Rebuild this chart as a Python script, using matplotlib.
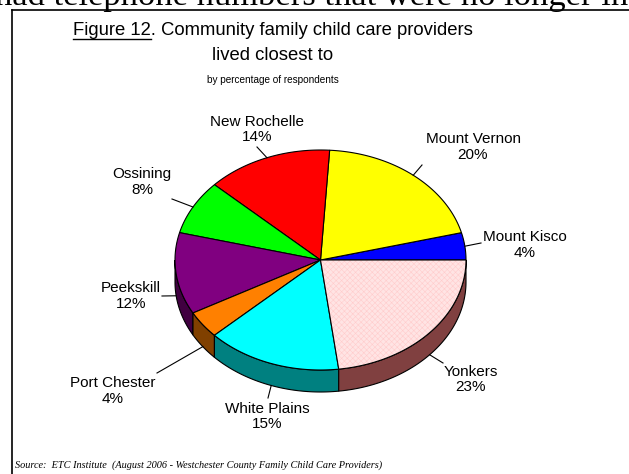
import matplotlib
matplotlib.use('Agg')
import matplotlib.pyplot as plt
from matplotlib.patches import Polygon
import numpy as np

plt.rcParams['font.family'] = ['Liberation Sans', 'DejaVu Sans']
plt.rcParams['hatch.linewidth'] = 0.4

# share of respondents by community
towns = ['Mount Kisco', 'Mount Vernon', 'New Rochelle', 'Ossining',
         'Peekskill', 'Port Chester', 'White Plains', 'Yonkers']
pct = [4, 20, 14, 8, 12, 4, 15, 23]

top_colors = ['#0000FF', '#FFFF00', '#FF0000', '#00FF00',
              '#800080', '#FF8000', '#00FFFF', '#FFE4E4']
side_colors = ['#000080', '#808000', '#800000', '#008000',
               '#400040', '#804000', '#008080', '#804040']

# label placement (text centre) and where each leader line ends
label_xy = [(525, 245), (473, 147), (257, 129.5), (142, 182),
            (131, 296), (113, 391), (267, 416.5), (471, 379.5)]
leader_end = [(481, 243), (422, 165), (257, 147), (172, 199),
              (162, 296), (157, 373), (268, 398), (443, 363)]

W, H = 629, 474
cx, cy, rx, ry, depth = 320.5, 260, 145.5, 110, 22

fig = plt.figure(figsize=(W / 100, H / 100), dpi=100)
ax = fig.add_axes([0, 0, 1, 1])
ax.set_xlim(0, W)
ax.set_ylim(H, 0)
ax.axis('off')


def rim(a0, a1, n=80):
    t = np.radians(np.linspace(a0, a1, n))
    return np.column_stack([cx + rx * np.cos(t), cy - ry * np.sin(t)])


edges = np.concatenate([[0], np.cumsum(pct)]) * 360.0 / sum(pct)

# side walls of the front half
for i in range(len(pct)):
    a0, a1 = max(edges[i], 180), min(edges[i + 1], 360)
    if a1 <= a0:
        continue
    upper = rim(a0, a1)
    lower = upper[::-1] + [0, depth]
    ax.add_patch(Polygon(np.vstack([upper, lower]), closed=True,
                         facecolor=side_colors[i], edgecolor='black', lw=0.8))

# top face
for i in range(len(pct)):
    pts = np.vstack([[cx, cy], rim(edges[i], edges[i + 1])])
    if towns[i] == 'Yonkers':
        ax.add_patch(Polygon(pts, closed=True, facecolor=top_colors[i],
                             edgecolor='#FFCCCC', hatch='xxxxxx', lw=0))
        ax.add_patch(Polygon(pts, closed=True, fill=False,
                             edgecolor='black', lw=0.8))
    else:
        ax.add_patch(Polygon(pts, closed=True, facecolor=top_colors[i],
                             edgecolor='black', lw=0.8))

# labels and leader lines
for i, name in enumerate(towns):
    mid = np.radians((edges[i] + edges[i + 1]) / 2)
    ax_x = cx + rx * np.cos(mid)
    ax_y = cy - ry * np.sin(mid) + (depth if np.sin(mid) < 0 else 0)
    ex, ey = leader_end[i]
    ax.plot([ax_x, ex], [ax_y, ey], color='black', lw=0.8)
    lx, ly = label_xy[i]
    ax.text(lx, ly, f'{name}\n{pct[i]}%', ha='center', va='center',
            fontsize=11, linespacing=1.1)

# titles
tx = 273
t1 = ax.text(tx, 35, 'Figure 12. Community family child care providers',
             ha='center', va='baseline', fontsize=13.3)
ax.text(tx, 60, 'lived closest to', ha='center', va='baseline', fontsize=13.3)
ax.text(tx, 83, 'by percentage of respondents', ha='center', va='baseline',
        fontsize=7.2)

# underline under "Figure 12"
r = fig.canvas.get_renderer()
bb = t1.get_window_extent(r)
tmp = ax.text(0, 0, 'Figure 12', fontsize=13.3)
uw = tmp.get_window_extent(r).width
tmp.remove()
ax.plot([bb.x0, bb.x0 + uw], [39, 39], color='black', lw=1.0)

ax.text(15, 465, 'Source:  ETC Institute  (August 2006 - Westchester County '
        'Family Child Care Providers)', ha='left', va='center', fontsize=7.4,
        family='Liberation Serif', style='italic')

# text of the page running above the frame
ax.text(628, 5, 'had telephone numbers that were no longer in', ha='right',
        va='baseline', fontsize=24.8, family='Liberation Serif')

# frame
ax.plot([12, W], [10, 10], color='black', lw=1.2, clip_on=False)
ax.plot([12, 12], [10, H], color='black', lw=1.2, clip_on=False)

fig.savefig('out.png', dpi=100)
